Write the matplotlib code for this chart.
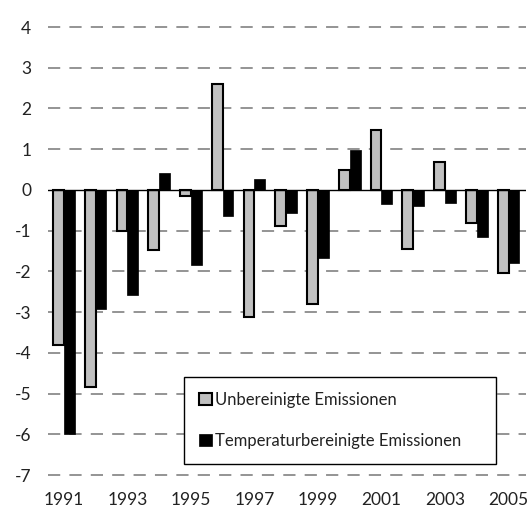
import matplotlib.pyplot as plt
import numpy as np

# Daten
jahre = list(range(1991, 2006))
unbereinigt = [-3.8, -4.85, -1.0, -1.48, -0.15, 2.6, -3.13, -0.88, -2.8, 0.5, 1.48, -1.44, 0.68, -0.82, -2.03]
temperaturbereinigt = [-6.0, -2.92, -2.57, 0.42, -1.85, -0.64, 0.28, -0.56, -1.68, 0.97, -0.35, -0.4, -0.32, -1.15, -1.8]
yticks = list(range(-7, 5))

plt.rcParams['font.family'] = ['Lato', 'DejaVu Sans']
plt.rcParams['font.size'] = 12.5

fig = plt.figure(figsize=(5.29, 5.12), dpi=100)
ax = fig.add_axes([48 / 529, 1 - 475 / 512, 478 / 529, 448 / 512])

x = np.arange(len(jahre))
w = 0.34
ax.bar(x - w / 2, unbereinigt, w, color='#c0c0c0', edgecolor='black', linewidth=1.5,
       label='Unbereinigte Emissionen', zorder=3)
ax.bar(x + w / 2, temperaturbereinigt, w, color='black', edgecolor='black', linewidth=0.5,
       label='Temperaturbereinigte Emissionen', zorder=3)

ax.set_xlim(-0.5, 14.55)
ax.set_ylim(-7, 4)
ax.set_yticks(yticks)
ax.set_yticklabels([str(v) for v in yticks], color='#222222')
ax.set_xticks(x[::2])
ax.set_xticklabels([str(j) for j in jahre[::2]], color='#222222')
ax.tick_params(length=0, pad=12)
ax.tick_params(axis='y', pad=12)

for v in yticks:
    if v != 0:
        ax.axhline(v, color='#777777', linewidth=1.1, dashes=(8, 6), zorder=1, clip_on=False)
ax.axhline(0, color='black', linewidth=1, zorder=4)

for s in ax.spines.values():
    s.set_visible(False)

leg = ax.legend(loc='center', bbox_to_anchor=(184 / 529, 1 - 463 / 512, 312 / 529, 85 / 512),
                bbox_transform=fig.transFigure, mode='expand', frameon=True, fancybox=False,
                edgecolor='black', framealpha=1, handlelength=0.75, handleheight=0.75,
                handletextpad=0.2, labelspacing=1.5, borderpad=0.9, borderaxespad=0,
                fontsize=12)
leg.get_frame().set_linewidth(1)
for t in leg.get_texts():
    t.set_color('#222222')

fig.savefig('out.png', dpi=100)
